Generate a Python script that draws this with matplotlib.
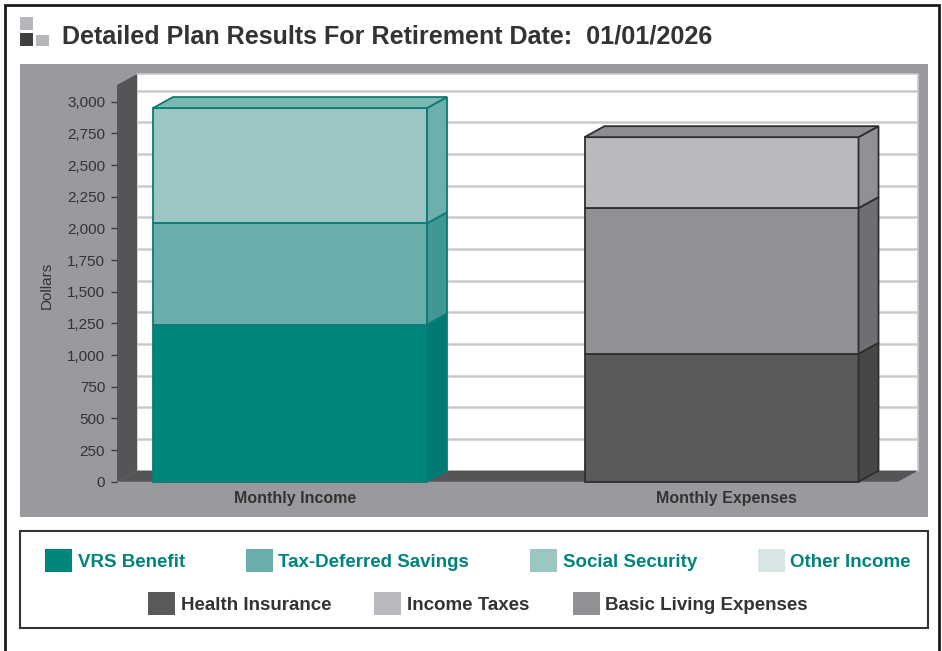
import matplotlib
matplotlib.use('Agg')
import matplotlib.pyplot as plt
from matplotlib.patches import Rectangle, Polygon, Patch
import matplotlib.transforms as mtransforms

# ---------------- data ----------------
categories = ['Monthly Income', 'Monthly Expenses']
income_series = ['VRS Benefit', 'Tax-Deferred Savings', 'Social Security', 'Other Income']
income_values = [1240, 800, 910, 0]
expense_series = ['Health Insurance', 'Basic Living Expenses', 'Income Taxes']
expense_values = [1010, 1150, 560]
expense_legend_order = ['Health Insurance', 'Income Taxes', 'Basic Living Expenses']
yticks = list(range(0, 3001, 250))
title = 'Detailed Plan Results For Retirement Date:  01/01/2026'
ylabel = 'Dollars'

# ---------------- style ----------------
FONT = 'Liberation Sans'
# front, side, top
colors = {
    'VRS Benefit': ('#00857d', '#007a73', '#007a73'),
    'Tax-Deferred Savings': ('#6badaa', '#3f9893', '#5aa5a1'),
    'Social Security': ('#9bc6c3', '#6cafab', '#7ab8b4'),
    'Other Income': ('#d8e7e6', '#c4dcda', '#c4dcda'),
    'Health Insurance': ('#5a5a5c', '#474749', '#474749'),
    'Basic Living Expenses': ('#909195', '#6e6f72', '#7a7b7e'),
    'Income Taxes': ('#b9babe', '#909195', '#8c8d90'),
}
edge_income = '#0d7a73'
edge_expense = '#2e2e2e'

W, H = 942, 651
fig = plt.figure(figsize=(W / 100, H / 100), dpi=100)
fig.patch.set_facecolor('white')


def fx(px):
    return px / W


def fy(py):
    return 1 - py / H


# outer frame
fig.add_artist(Rectangle((fx(5), fy(700)), fx(939) - fx(5), fy(5) - fy(700),
                         transform=fig.transFigure, facecolor='none',
                         edgecolor='#1a1a1a', lw=2, clip_on=False))
# title icon
for (x0, y0, x1, y1, c) in [(20, 17, 33, 30, '#b5b6b9'), (20, 33, 33, 46, '#3f3f41'),
                            (36, 35, 49, 46, '#b5b6b9')]:
    fig.add_artist(Rectangle((fx(x0), fy(y1)), fx(x1) - fx(x0), fy(y0) - fy(y1),
                             transform=fig.transFigure, facecolor=c, edgecolor='none'))
fig.text(fx(62), fy(37), title, fontsize=18.1, family=FONT, weight='bold',
         color='#333333', va='center', ha='left')

# grey chart panel
fig.add_artist(Rectangle((fx(20), fy(517)), fx(928) - fx(20), fy(64) - fy(517),
                         transform=fig.transFigure, facecolor='#999a9e',
                         edgecolor='none', zorder=0))

# ---------------- main axes (front plane) ----------------
left_px, right_px, top_px, zero_px = 117, 898, 85, 481.7
px_per_unit_y = 380 / 3000
ymax = (zero_px - top_px) / px_per_unit_y
unit_px = 431.5
c0_px = 290
xmin = -(c0_px - left_px) / unit_px
xmax = (right_px - c0_px) / unit_px
bar_w = 274 / unit_px
DX = 20 / unit_px
DY = 11 / px_per_unit_y

ax = fig.add_axes([fx(left_px), fy(zero_px), fx(right_px) - fx(left_px),
                   fy(top_px) - fy(zero_px)])
ax.set_xlim(xmin, xmax)
ax.set_ylim(0, ymax)
ax.patch.set_alpha(0)
for s in ax.spines.values():
    s.set_visible(False)

# back wall
ax.add_patch(Polygon([(xmin + DX, DY), (xmax + DX, DY), (xmax + DX, ymax + DY),
                      (xmin + DX, ymax + DY)], closed=True, facecolor='white',
                     edgecolor='#c8c9cc', lw=1.2, clip_on=False, zorder=0.5))
for yv in yticks[1:]:
    ax.plot([xmin + DX, xmax + DX], [yv + DY, yv + DY], color='#c9cacd', lw=1.8,
            clip_on=False, zorder=0.6, solid_capstyle='butt')
# left wall and floor
wall_c = '#555557'
ax.add_patch(Polygon([(xmin, 0), (xmin, ymax), (xmin + DX, ymax + DY), (xmin + DX, DY)],
                     closed=True, facecolor=wall_c, edgecolor='none', clip_on=False, zorder=0.7))
ax.add_patch(Polygon([(xmin, 0), (xmax, 0), (xmax + DX, DY), (xmin + DX, DY)],
                     closed=True, facecolor=wall_c, edgecolor='none', clip_on=False, zorder=0.7))


def draw_stack(xc, names, values, edge):
    bottom = 0
    xl, xr = xc - bar_w / 2, xc + bar_w / 2
    top_name = None
    for name, val in zip(names, values):
        if val <= 0:
            continue
        front, side, topc = colors[name]
        ax.bar(xc, val, width=bar_w, bottom=bottom, color=front, edgecolor=edge,
               lw=1.3, zorder=3, clip_on=False)
        ax.add_patch(Polygon([(xr, bottom), (xr + DX, bottom + DY), (xr + DX, bottom + val + DY),
                              (xr, bottom + val)], closed=True, facecolor=side,
                             edgecolor=edge, lw=1.3, clip_on=False, zorder=3))
        bottom += val
        top_name = name
    ax.add_patch(Polygon([(xl, bottom), (xl + DX, bottom + DY), (xr + DX, bottom + DY),
                          (xr, bottom)], closed=True, facecolor=colors[top_name][2],
                         edgecolor=edge, lw=1.3, clip_on=False, zorder=3))


draw_stack(0, income_series, income_values, edge_income)
draw_stack(1, expense_series, expense_values, edge_expense)

ax.set_yticks(yticks)
ax.set_yticklabels([f'{v:,}' for v in yticks])
ax.tick_params(axis='y', length=4, width=1, color='#3a3a3a', pad=4.5,
               labelsize=11, labelcolor='#333333')
ax.set_xticks([0, 1])
ax.set_xticklabels(categories)
ax.tick_params(axis='x', length=0, pad=7, labelsize=11.5, labelcolor='#333333')
for lab in ax.get_yticklabels():
    lab.set_family(FONT)
offset = mtransforms.ScaledTranslation(5 / 100, 0, fig.dpi_scale_trans)
for lab in ax.get_xticklabels():
    lab.set_family(FONT)
    lab.set_fontweight('bold')
    lab.set_transform(lab.get_transform() + offset)

fig.text(fx(47), fy(285), ylabel, rotation=90, fontsize=11, family=FONT,
         color='#333333', ha='center', va='center')

# ---------------- legend ----------------
fig.add_artist(Rectangle((fx(20), fy(628)), fx(928) - fx(20), fy(531) - fy(628),
                         transform=fig.transFigure, facecolor='white',
                         edgecolor='#333333', lw=1.5, zorder=1))

fs = 13.5
hsize = 27 / (fs * 100 / 72)
h1 = [Patch(facecolor=colors[n][0], edgecolor='none') for n in income_series]
leg1 = fig.legend(h1, income_series, ncol=4, mode='expand', loc='center',
                  bbox_to_anchor=(fx(45), fy(574), fx(911) - fx(45), fy(547) - fy(574)),
                  bbox_transform=fig.transFigure, frameon=False, borderpad=0,
                  borderaxespad=0, handlelength=hsize, handleheight=hsize,
                  handletextpad=0.3, prop={'family': FONT, 'weight': 'bold', 'size': fs})
for t in leg1.get_texts():
    t.set_color('#00847b')
h2 = [Patch(facecolor=colors[n][0], edgecolor='none') for n in expense_legend_order]
leg2 = fig.legend(h2, expense_legend_order, ncol=3, loc='center',
                  bbox_to_anchor=(fx(478), fy(603.5)), bbox_transform=fig.transFigure,
                  frameon=False, borderpad=0, borderaxespad=0, handlelength=hsize,
                  handleheight=hsize, handletextpad=0.3, columnspacing=2.3,
                  prop={'family': FONT, 'weight': 'bold', 'size': fs})
for t in leg2.get_texts():
    t.set_color('#333333')
leg1.set_zorder(5)
leg2.set_zorder(5)

fig.savefig('out.png', dpi=100)
